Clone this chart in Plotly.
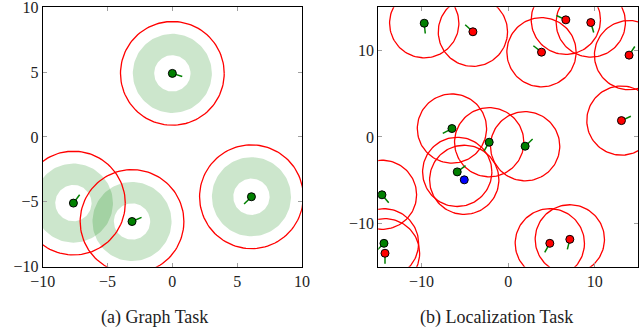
import numpy as np
import plotly.graph_objects as go

# ---------------- Data: (a) Graph Task ----------------
graph_x = [0.0, -7.63, -3.11, 6.10]
graph_y = [4.9, -5.10, -6.52, -4.61]
graph_dir_x = [0.95, 0.6, 0.92, -0.7]
graph_dir_y = [-0.3, 0.8, 0.4, -0.7]
graph_inner_r = 1.4
graph_outer_r = 3.05
graph_comm_r = 4.0
graph_arrow_len = 0.8
graph_ticks = [-10, -5, 0, 5, 10]

# ---------------- Data: (b) Localization Task ----------------
loc_green_x = [-9.69, -6.49, -2.19, 1.96, -5.88, -14.57, -14.34]
loc_green_y = [13.15, 0.97, -0.61, -1.07, -4.04, -6.69, -12.30]
loc_green_dx = [0.1, -0.88, -0.5, 0.72, 0.8, 0.65, -0.7]
loc_green_dy = [-1.0, -0.47, -0.87, 0.69, 0.6, -0.76, -0.7]

loc_red_x = [-4.07, 3.85, 6.66, 9.54, 13.96, 13.08, -14.22, 4.81, 7.12]
loc_red_y = [12.16, 9.80, 13.54, 13.23, 9.46, 1.89, -13.45, -12.30, -11.84]
loc_red_dx = [-0.74, -0.78, -0.9, 0.28, 0.55, 0.9, 0.0, -0.49, -0.24]
loc_red_dy = [0.67, 0.62, 0.42, -0.96, 0.83, 0.42, -1.0, -0.87, -0.97]

loc_blue_x = [-5.07]
loc_blue_y = [-4.96]

loc_comm_r = 4.0
loc_arrow_len = 1.2
loc_ticks = [-10, 0, 10]

captions = ["(a) Graph Task", "(b) Localization Task"]

FONT = "Liberation Serif, Tinos, 'Times New Roman', serif"
GREEN = "rgb(0,128,0)"

theta = np.linspace(0, 2 * np.pi, 121)


def circles(xs, ys, r):
    X, Y = [], []
    for cx, cy in zip(xs, ys):
        X += list(cx + r * np.cos(theta)) + [None]
        Y += list(cy + r * np.sin(theta)) + [None]
    return X, Y


def annulus(cx, cy, r_in, r_out):
    ox = cx + r_out * np.cos(theta)
    oy = cy + r_out * np.sin(theta)
    ix = cx + r_in * np.cos(theta[::-1])
    iy = cy + r_in * np.sin(theta[::-1])
    X = list(ox) + [cx + r_in] + list(ix) + [cx + r_out]
    Y = list(oy) + [cy] + list(iy) + [cy]
    return X, Y


def arrows(xs, ys, dxs, dys, L):
    X, Y = [], []
    for x, y, dx, dy in zip(xs, ys, dxs, dys):
        n = np.hypot(dx, dy)
        X += [x, x + L * dx / n, None]
        Y += [y, y + L * dy / n, None]
    return X, Y


fig = go.Figure()

# ---- panel (a)
for cx, cy in zip(graph_x, graph_y):
    ax_, ay_ = annulus(cx, cy, graph_inner_r, graph_outer_r)
    fig.add_trace(go.Scatter(x=ax_, y=ay_, mode="lines", fill="toself",
                             fillcolor="rgba(0,128,0,0.2)", line=dict(width=0),
                             hoverinfo="skip", xaxis="x", yaxis="y"))
cx_, cy_ = circles(graph_x, graph_y, graph_comm_r)
fig.add_trace(go.Scatter(x=cx_, y=cy_, mode="lines", line=dict(color="red", width=1.3),
                         xaxis="x", yaxis="y"))
arx, ary = arrows(graph_x, graph_y, graph_dir_x, graph_dir_y, graph_arrow_len)
fig.add_trace(go.Scatter(x=arx, y=ary, mode="lines", line=dict(color=GREEN, width=1.5),
                         xaxis="x", yaxis="y"))
fig.add_trace(go.Scatter(x=graph_x, y=graph_y, mode="markers",
                         marker=dict(size=8, color=GREEN, line=dict(color="black", width=1)),
                         xaxis="x", yaxis="y"))

# ---- panel (b)
all_x = loc_green_x + loc_red_x + loc_blue_x
all_y = loc_green_y + loc_red_y + loc_blue_y
cx_, cy_ = circles(all_x, all_y, loc_comm_r)
fig.add_trace(go.Scatter(x=cx_, y=cy_, mode="lines", line=dict(color="red", width=1.3),
                         xaxis="x2", yaxis="y2"))
arx, ary = arrows(loc_green_x + loc_red_x, loc_green_y + loc_red_y,
                  loc_green_dx + loc_red_dx, loc_green_dy + loc_red_dy, loc_arrow_len)
fig.add_trace(go.Scatter(x=arx, y=ary, mode="lines", line=dict(color=GREEN, width=1.5),
                         xaxis="x2", yaxis="y2"))
for xs, ys, col in [(loc_green_x, loc_green_y, GREEN),
                    (loc_red_x, loc_red_y, "red"),
                    (loc_blue_x, loc_blue_y, "blue")]:
    fig.add_trace(go.Scatter(x=xs, y=ys, mode="markers",
                             marker=dict(size=8, color=col, line=dict(color="black", width=1)),
                             xaxis="x2", yaxis="y2"))

axis_common = dict(showgrid=False, zeroline=False, showline=True, linecolor="black",
                   linewidth=1, mirror="allticks", ticks="inside", ticklen=4,
                   tickcolor="#a0a0a0", tickwidth=1, ticklabeloverflow="allow",
                   automargin=False,
                   tickfont=dict(family=FONT, size=16, color="#222"))

fig.update_layout(
    width=640, height=328, margin=dict(l=0, r=0, t=0, b=0, autoexpand=False),
    paper_bgcolor="white", plot_bgcolor="white", showlegend=False,
    xaxis=dict(range=[-10, 10], tickvals=graph_ticks, domain=[0.0667, 0.4719],
               anchor="y", **axis_common),
    yaxis=dict(range=[-10, 10], tickvals=graph_ticks, domain=[0.187, 0.978],
               anchor="x", **axis_common),
    xaxis2=dict(range=[-15, 15], tickvals=loc_ticks, domain=[0.591, 0.997],
                anchor="y2", **axis_common),
    yaxis2=dict(range=[-15, 15], tickvals=loc_ticks, domain=[0.187, 0.978],
                anchor="x2", **axis_common),
    annotations=[
        dict(text=captions[0], x=154 / 640, y=(328 - 317) / 328, xref="paper", yref="paper",
             showarrow=False, xanchor="center", yanchor="middle",
             font=dict(family=FONT, size=18, color="#222")),
        dict(text=captions[1], x=496 / 640, y=(328 - 317) / 328, xref="paper", yref="paper",
             showarrow=False, xanchor="center", yanchor="middle",
             font=dict(family=FONT, size=18, color="#222")),
    ],
)

fig.write_html(
    "out.html",
    config={"displayModeBar": False},
    post_script="document.body.style.margin='0';document.body.style.overflow='hidden';",
)
